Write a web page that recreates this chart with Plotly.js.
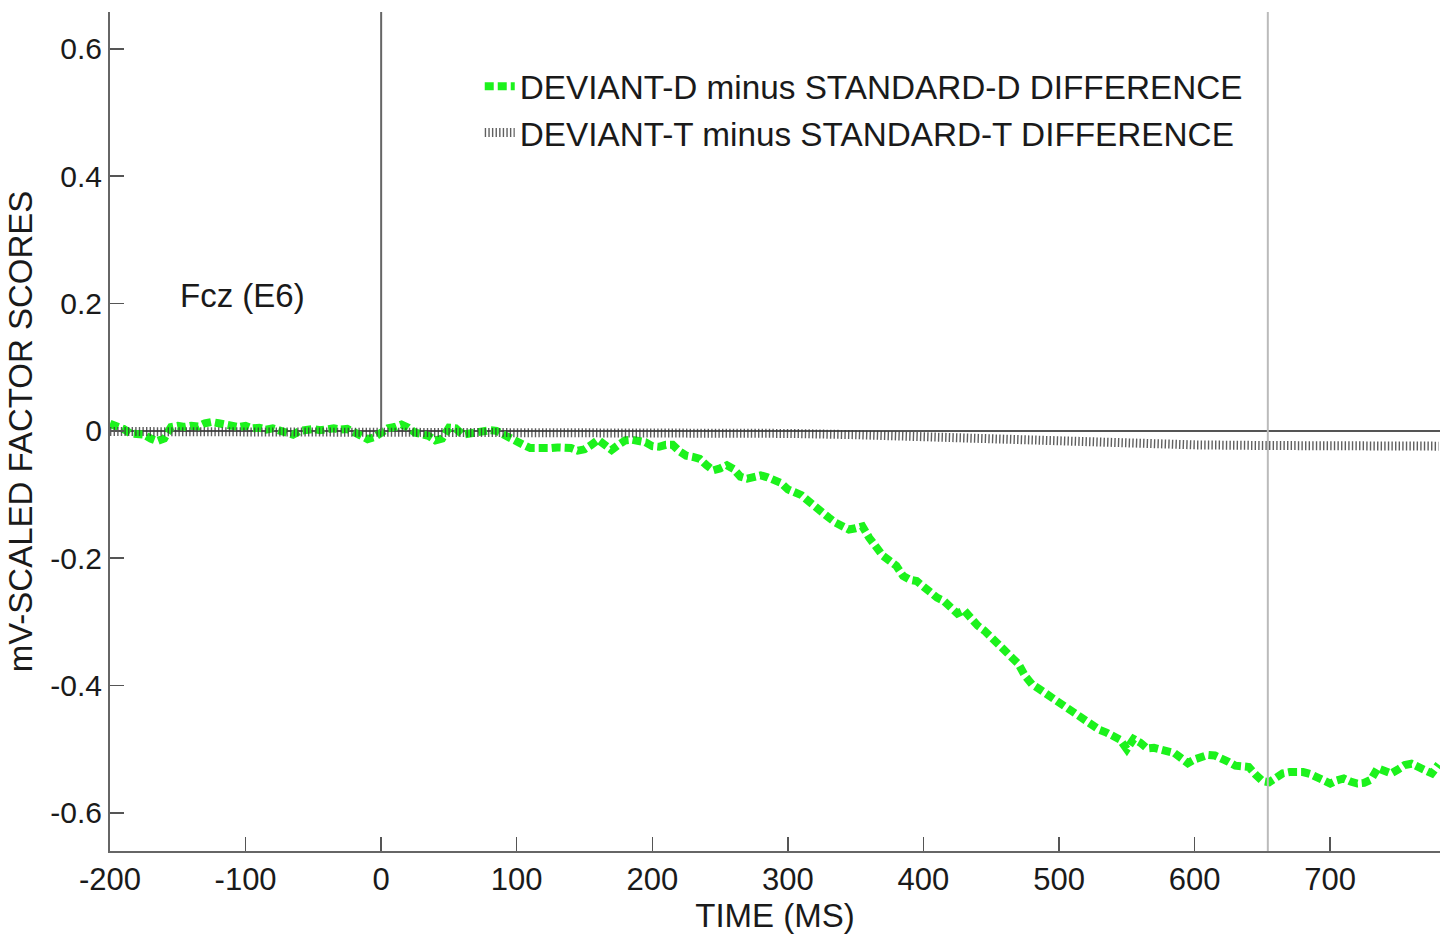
<!DOCTYPE html>
<html>
<head>
<meta charset="utf-8">
<script src="https://cdn.plot.ly/plotly-3.0.1.min.js"></script>
<style>html,body{margin:0;padding:0;background:#fff;}#chart{width:1442px;height:934px;}</style>
</head>
<body>
<div id="chart"></div>
<script>
// Time axis (ms) for the DEVIANT-D minus STANDARD-D difference wave
const timeD = [-200,-195,-190,-185,-180,-175,-170,-165,-160,-155,-150,-145,-140,-135,-130,-125,-120,-115,-110,-105,-100,-95,-90,-85,-80,-75,-70,-65,-60,-55,-50,-45,-40,-35,-30,-25,-20,-15,-10,-5,0,5,10,15,20,25,30,35,40,45,50,55,60,65,70,75,80,85,90,95,100,105,110,115,120,125,130,135,140,145,150,155,160,165,170,175,180,185,190,195,200,205,210,215,220,225,230,235,240,245,250,255,260,265,270,275,280,285,290,295,300,305,310,315,320,325,330,335,340,345,350,355,360,365,370,375,380,385,390,395,400,405,410,415,420,425,430,435,440,445,450,455,460,465,470,475,480,485,490,495,500,505,510,515,520,525,530,535,540,545,550,555,560,565,570,575,580,585,590,595,600,605,610,615,620,625,630,635,640,645,650,655,660,665,670,675,680,685,690,695,700,705,710,715,720,725,730,735,740,745,750,755,760,765,770,775,780];
const diffD = [0.011,0.008,0.003,-0.004,-0.005,-0.006,-0.012,-0.016,-0.012,0.006,0.008,0.006,0.008,0.007,0.012,0.014,0.012,0.010,0.011,0.006,0.008,0.004,0.005,0.002,0.004,0.001,-0.003,-0.006,0.000,0.002,0.003,0.001,0.003,0.004,0.002,0.003,-0.002,-0.008,-0.013,-0.010,-0.004,0.004,0.006,0.010,0.005,-0.003,-0.005,-0.008,-0.015,-0.012,0.005,0.004,-0.006,-0.004,-0.002,0.000,0.001,0.000,-0.006,-0.013,-0.018,-0.022,-0.027,-0.028,-0.026,-0.027,-0.026,-0.025,-0.027,-0.031,-0.029,-0.022,-0.014,-0.022,-0.030,-0.022,-0.015,-0.014,-0.015,-0.018,-0.024,-0.025,-0.022,-0.022,-0.032,-0.039,-0.041,-0.044,-0.054,-0.062,-0.059,-0.054,-0.060,-0.072,-0.075,-0.072,-0.070,-0.073,-0.078,-0.082,-0.092,-0.097,-0.101,-0.110,-0.120,-0.130,-0.136,-0.144,-0.148,-0.155,-0.153,-0.150,-0.168,-0.182,-0.196,-0.204,-0.212,-0.228,-0.234,-0.236,-0.246,-0.256,-0.262,-0.267,-0.276,-0.287,-0.282,-0.295,-0.306,-0.314,-0.324,-0.334,-0.345,-0.354,-0.366,-0.385,-0.398,-0.405,-0.412,-0.419,-0.428,-0.436,-0.443,-0.450,-0.455,-0.461,-0.470,-0.474,-0.479,-0.485,-0.500,-0.484,-0.490,-0.499,-0.498,-0.501,-0.503,-0.506,-0.514,-0.522,-0.516,-0.513,-0.509,-0.510,-0.514,-0.520,-0.526,-0.526,-0.528,-0.540,-0.550,-0.552,-0.544,-0.538,-0.536,-0.535,-0.536,-0.539,-0.543,-0.548,-0.554,-0.549,-0.546,-0.551,-0.554,-0.553,-0.548,-0.530,-0.534,-0.538,-0.532,-0.525,-0.523,-0.529,-0.533,-0.538,-0.524];

// DEVIANT-T minus STANDARD-T difference wave
const timeT = [-200,-150,-100,-50,0,50,100,150,200,250,300,350,400,450,500,550,600,650,700,750,780];
const diffT = [-0.001,-0.001,-0.001,-0.001,-0.001,-0.001,-0.001,-0.001,-0.001,-0.002,-0.004,-0.006,-0.009,-0.014,-0.018,-0.020,-0.022,-0.023,-0.023,-0.024,-0.024];

const seriesNames = ["DEVIANT-D minus STANDARD-D DIFFERENCE", "DEVIANT-T minus STANDARD-T DIFFERENCE"];
const yTickVals = [0.6, 0.4, 0.2, 0, -0.2, -0.4, -0.6];
const yTickText = ["0.6", "0.4", "0.2", "0", "-0.2", "-0.4", "-0.6"];
const xTickVals = [-200, -100, 0, 100, 200, 300, 400, 500, 600, 700];
const xTickText = ["-200", "-100", "0", "100", "200", "300", "400", "500", "600", "700"];
const stimulusOnset = 0;
const markerTime = 654;
const electrodeLabel = "Fcz (E6)";

const FONT = "Liberation Sans, Arial, Helvetica, sans-serif";

const traces = [
  {
    x: timeD, y: diffD, type: "scatter", mode: "lines", name: seriesNames[0],
    line: {color: "#1cf21c", width: 8, dash: "9px,4px"}
  },
  {
    x: timeT, y: diffT, type: "scatter", mode: "lines", name: seriesNames[1],
    line: {color: "rgba(55,55,55,0.8)", width: 9, dash: "1.4px,2.2px"}
  }
];

const layout = {
  width: 1442, height: 934,
  margin: {l: 110, r: 2, t: 12, b: 83},
  paper_bgcolor: "#fff", plot_bgcolor: "#fff",
  font: {family: FONT, size: 32, color: "#1a1a1a"},
  showlegend: true,
  legend: {
    x: 0.278, y: 0.945, xanchor: "left", yanchor: "top",
    bgcolor: "rgba(0,0,0,0)", font: {family: FONT, size: 33.3, color: "#1a1a1a"},
    itemwidth: 30, tracegroupgap: 0
  },
  xaxis: {
    range: [-200, 781], showgrid: false, zeroline: false,
    showline: true, linecolor: "#666", linewidth: 2, mirror: false,
    ticks: "inside", ticklen: 14, tickwidth: 1.5, tickcolor: "#555",
    tickvals: xTickVals, ticktext: xTickText,
    tickfont: {family: FONT, size: 31, color: "#1a1a1a"},
    title: {text: "TIME (MS)", font: {family: FONT, size: 33, color: "#1a1a1a"}, standoff: 4}
  },
  yaxis: {
    range: [-0.66, 0.658], showgrid: false,
    zeroline: true, zerolinecolor: "#555", zerolinewidth: 2,
    showline: true, linecolor: "#666", linewidth: 2, mirror: false,
    ticks: "inside", ticklen: 14, tickwidth: 1.5, tickcolor: "#555",
    tickvals: yTickVals, ticktext: yTickText,
    tickfont: {family: FONT, size: 30, color: "#1a1a1a"},
    title: {text: "mV-SCALED FACTOR SCORES", font: {family: FONT, size: 33, color: "#1a1a1a"}, standoff: 8}
  },
  shapes: [
    {type: "line", xref: "x", yref: "y", x0: stimulusOnset, x1: stimulusOnset, y0: 0, y1: 0.658,
     line: {color: "#666", width: 2}},
    {type: "line", xref: "x", yref: "paper", x0: markerTime, x1: markerTime, y0: 0, y1: 1,
     line: {color: "#bbb", width: 2}}
  ],
  annotations: [
    {text: electrodeLabel, x: -102, y: 0.212, xref: "x", yref: "y", showarrow: false,
     font: {family: FONT, size: 33, color: "#1a1a1a"}}
  ]
};

Plotly.newPlot("chart", traces, layout, {displayModeBar: false, staticPlot: true});
</script>
</body>
</html>
